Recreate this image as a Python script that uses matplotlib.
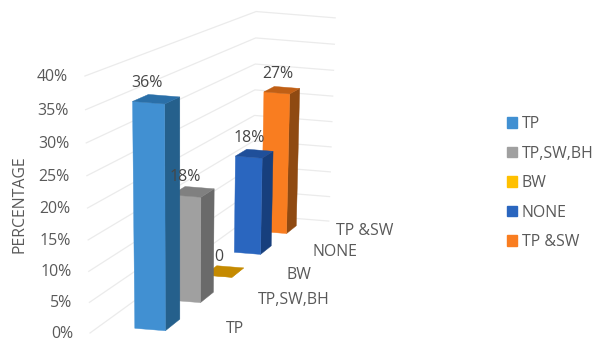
import matplotlib
matplotlib.use('Agg')
import matplotlib.pyplot as plt
from matplotlib.patches import Patch

plt.rcParams['font.family'] = ['Open Sans', 'DejaVu Sans']

# Chart data
categories = ['TP', 'TP,SW,BH', 'BW', 'NONE', 'TP &SW']
values = [36, 18, 0, 18, 27]
value_labels = ['36%', '18%', '0', '18%', '27%']
ticks = [0, 5, 10, 15, 20, 25, 30, 35, 40]

# Colours for each bar: front, side, top, legend
front_colors = ['#4190d2', '#a0a0a0', '#c58a00', '#2a66bf', '#f97d20']
side_colors = ['#25608c', '#6a6a6a', '#c58a00', '#173f7d', '#8f4a12']
top_colors = ['#2a6fa8', '#808080', '#c58a00', '#1f4f9a', '#c05f15']
legend_colors = ['#4190d2', '#a0a0a0', '#ffc000', '#2a66bf', '#f97d20']
text_color = '#595959'
value_color = '#464646'
font_size = 11.4


# Perspective projection: a = across the floor, d = into the chart, v = percent
def project(a, d, v):
    w = 1 + 0.28 * d - 0.00133 * v
    x = (90 + 100 * a + 233.8 * d - 0.24 * v) / w
    y = (333 + 8 * a - 57.8 * d - 6.526 * v) / w
    return x, y


def draw_face(ax, corners, color, zorder):
    points = [project(*c) for c in corners]
    ax.fill([p[0] for p in points], [p[1] for p in points], color=color,
            linewidth=0.3, zorder=zorder)


fig = plt.figure(figsize=(5.92, 3.38), dpi=100)
ax = fig.add_axes([0, 0, 1, 1])
ax.set_xlim(0, 592)
ax.set_ylim(338, 0)
ax.axis('off')

# Gridlines on the left wall and the back wall, with the tick labels
for t in ticks:
    xs, ys = zip(project(0, 0, t), project(0, 1, t), project(0.97, 1, t))
    ax.plot(xs, ys, color='#ebebeb', linewidth=0.9, zorder=1)
    ax.text(xs[0] - 17, ys[0] + 1, f'{t}%', ha='right', va='center',
            fontsize=font_size, color=text_color)

ax.text(20, 204, 'PERCENTAGE', rotation=90, ha='center', va='center',
        fontsize=font_size, color=text_color)

bar_left = 0.35
bar_width = 0.31
bar_depth = 0.08

# Bars go back to front so the nearer ones cover the others
for i in reversed(range(len(categories))):
    d0 = 0.05 + 0.2 * i
    d1 = d0 + bar_depth
    a0 = bar_left
    a1 = bar_left + bar_width
    v = values[i]
    z = 10 + (len(categories) - i)
    draw_face(ax, [(a1, d0, 0), (a1, d1, 0), (a1, d1, v), (a1, d0, v)], side_colors[i], z)
    draw_face(ax, [(a0, d0, 0), (a1, d0, 0), (a1, d0, v), (a0, d0, v)], front_colors[i], z)
    draw_face(ax, [(a0, d0, v), (a1, d0, v), (a1, d1, v), (a0, d1, v)], top_colors[i], z)

    # Value label above the bar
    x, y = project(a0, d0, v)
    ax.text(x + 14, y - 18, value_labels[i], ha='center', va='center',
            fontsize=font_size, color=value_color, zorder=30)

    # Category label on the floor, right of the bar
    x, y = project(1.27, d0, 0)
    ax.text(x, y - 7, categories[i], ha='left', va='center',
            fontsize=font_size, color=text_color, zorder=30)

handles = [Patch(color=c) for c in legend_colors]
ax.legend(handles, categories, loc='upper left', bbox_to_anchor=(507 / 592, 1 - 116 / 338),
          frameon=False, fontsize=font_size, labelcolor=text_color, handlelength=0.62,
          handleheight=0.62, handletextpad=0.32, labelspacing=0.855, borderpad=0,
          borderaxespad=0)

plt.savefig('out.png', dpi=100)
